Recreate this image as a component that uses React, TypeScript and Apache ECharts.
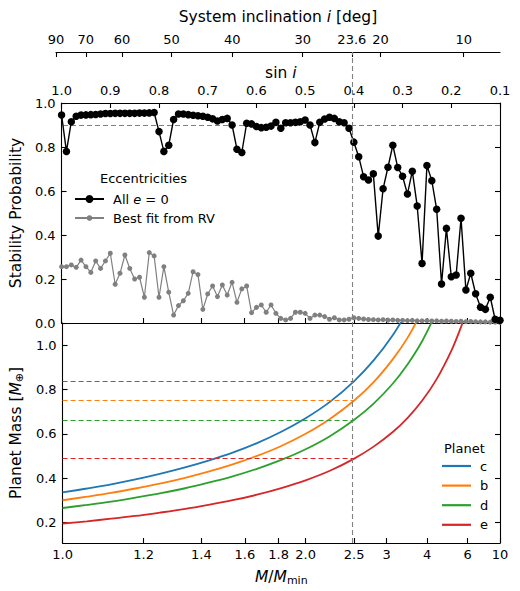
import React, { useEffect, useRef } from "react";
import * as echarts from "echarts";

// ---------- data ----------
// sample positions (sin i) of the stability runs
const stabilitySinI = [
  1.0, 0.99, 0.98, 0.97, 0.96, 0.95, 0.94, 0.93, 0.92, 0.91,
  0.9, 0.89, 0.88, 0.87, 0.86, 0.85, 0.84, 0.83, 0.82, 0.81,
  0.8, 0.79, 0.78, 0.77, 0.76, 0.75, 0.74, 0.73, 0.72, 0.71,
  0.7, 0.69, 0.68, 0.67, 0.66, 0.65, 0.64, 0.63, 0.62, 0.61,
  0.6, 0.59, 0.58, 0.57, 0.56, 0.55, 0.54, 0.53, 0.52, 0.51,
  0.5, 0.49, 0.48, 0.47, 0.46, 0.45, 0.44, 0.43, 0.42, 0.41,
  0.4, 0.39, 0.38, 0.37, 0.36, 0.35, 0.34, 0.33, 0.32, 0.31,
  0.3, 0.29, 0.28, 0.27, 0.26, 0.25, 0.24, 0.23, 0.22, 0.21,
  0.2, 0.19, 0.18, 0.17, 0.16, 0.15, 0.14, 0.13, 0.12, 0.11,
  0.1,
];

const stabilityAllZero = [
  0.945, 0.78, 0.915, 0.94, 0.945, 0.946, 0.947, 0.948, 0.95, 0.952,
  0.952, 0.953, 0.953, 0.953, 0.953, 0.953, 0.954, 0.954, 0.955, 0.957,
  0.87, 0.78, 0.808, 0.925, 0.95, 0.95, 0.947, 0.944, 0.942, 0.94,
  0.935, 0.928, 0.918, 0.925, 0.93, 0.9, 0.79, 0.775, 0.908, 0.905,
  0.893, 0.888, 0.89, 0.895, 0.912, 0.885, 0.91, 0.91, 0.912, 0.915,
  0.923, 0.9, 0.82, 0.912, 0.927, 0.935, 0.93, 0.915, 0.91, 0.885,
  0.822, 0.756, 0.665, 0.65, 0.678, 0.395, 0.61, 0.708, 0.808, 0.707,
  0.667, 0.586, 0.69, 0.532, 0.271, 0.716, 0.647, 0.517, 0.177, 0.43,
  0.21, 0.218, 0.476, 0.15, 0.226, 0.133, 0.072, 0.062, 0.117, 0.017,
  0.012,
];

const stabilityBestFit = [
  0.256, 0.256, 0.264, 0.253, 0.286, 0.256, 0.23, 0.282, 0.248, 0.282,
  0.317, 0.176, 0.226, 0.309, 0.248, 0.2, 0.208, 0.117, 0.32, 0.305,
  0.117, 0.256, 0.14, 0.036, 0.079, 0.101, 0.135, 0.233, 0.22, 0.062,
  0.132, 0.168, 0.12, 0.173, 0.127, 0.185, 0.094, 0.155, 0.168, 0.047,
  0.071, 0.082, 0.049, 0.082, 0.044, 0.021, 0.014, 0.021, 0.049, 0.049,
  0.044, 0.021, 0.036, 0.036, 0.029, 0.017, 0.024, 0.014, 0.014, 0.017,
  0.024, 0.021, 0.018, 0.016, 0.015, 0.014, 0.015, 0.013, 0.014, 0.012,
  0.012, 0.011, 0.012, 0.01, 0.01, 0.011, 0.009, 0.01, 0.008, 0.009,
  0.008, 0.007, 0.008, 0.006, 0.007, 0.006, 0.005, 0.005, 0.004, 0.004,
  0.003,
];

const stabilityReference = 0.9;
const thresholdSinI = 0.4;

// planet mass curves (sin i positions and masses)
const massSinI = [
  1.0, 0.95, 0.9, 0.85, 0.8, 0.75, 0.7, 0.65, 0.6, 0.55, 0.5, 0.45, 0.4,
  0.36, 0.32, 0.29, 0.26, 0.23, 0.2, 0.18, 0.17,
];
const massC = [0.335, 0.353, 0.372, 0.394, 0.419, 0.447, 0.479, 0.515, 0.558, 0.609, 0.67, 0.744, 0.838, 0.931, 1.047, 1.155];
const massB = [0.3, 0.316, 0.333, 0.353, 0.375, 0.4, 0.429, 0.462, 0.5, 0.545, 0.6, 0.667, 0.75, 0.833, 0.938, 1.034, 1.154];
const massD = [0.265, 0.279, 0.294, 0.312, 0.331, 0.353, 0.379, 0.408, 0.442, 0.482, 0.53, 0.589, 0.663, 0.736, 0.828, 0.914, 1.019, 1.152];
const massE = [0.195, 0.205, 0.217, 0.229, 0.244, 0.26, 0.279, 0.3, 0.325, 0.355, 0.39, 0.433, 0.488, 0.542, 0.609, 0.672, 0.75, 0.848, 0.975, 1.083, 1.147];

const planetNames = ["c", "b", "d", "e"];
const planetMasses = [massC, massB, massD, massE];
const planetMassAtThreshold = [0.838, 0.75, 0.663, 0.488];
const planetColors = ["#1f77b4", "#ff7f0e", "#2ca02c", "#d62728"];

// tick labels
const sinTickLabels = ["1.0", "0.9", "0.8", "0.7", "0.6", "0.5", "0.4", "0.3", "0.2", "0.1"];
const ratioTickLabels = ["1.0", "1.2", "1.4", "1.6", "1.8", "2.0", "2.5", "3", "4", "6", "10"];
const inclTickLabels = ["90", "70", "60", "50", "40", "30", "23.6", "20", "10"];
const stabTickLabels = ["0.0", "0.2", "0.4", "0.6", "0.8", "1.0"];
const massTickLabels = ["0.2", "0.4", "0.6", "0.8", "1.0"];

// ---------- helpers ----------
const FONT = "DejaVu Sans";
const sinPos = sinTickLabels.map((s) => parseFloat(s));
const ratioPos = ratioTickLabels.map((s) => 1 / parseFloat(s));
const inclPos = inclTickLabels.map((s) => Math.sin((parseFloat(s) * Math.PI) / 180));
const stabPos = stabTickLabels.map((s) => parseFloat(s));
const massPos = massTickLabels.map((s) => parseFloat(s));

function nearest(labels: string[], pos: number[], v: number): string {
  let best = 0;
  let bd = Infinity;
  for (let i = 0; i < pos.length; i++) {
    const d = Math.abs(pos[i] - v);
    if (d < bd) {
      bd = d;
      best = i;
    }
  }
  return labels[best];
}

const pairs = (xs: number[], ys: number[]) => ys.map((y, i) => [xs[i], y]);

const axisLine = { show: true, onZero: false, lineStyle: { color: "#000", width: 1.1 } };
const tick = (vals: number[]) => ({
  show: true,
  inside: true,
  length: 5,
  customValues: vals,
  lineStyle: { color: "#000", width: 1.1 },
});
const label = (vals: number[], labels: string[], margin: number) => ({
  show: true,
  customValues: vals,
  margin,
  fontSize: 13,
  fontFamily: FONT,
  color: "#000",
  formatter: (v: number) => nearest(labels, vals, v),
});
const rich = {
  i: { fontStyle: "italic", fontFamily: FONT, fontSize: 15.5, color: "#000" },
  s: { fontFamily: FONT, fontSize: 11, color: "#000", verticalAlign: "bottom", padding: [7, 0, 0, 0] },
};
const nameStyle = { fontFamily: FONT, fontSize: 15.5, color: "#000", rich };

const legendText = {
  fontFamily: FONT,
  fontSize: 13,
  lineHeight: 14,
  color: "#000",
  padding: [0, 0, 0, 4],
  rich: { i: { fontStyle: "italic", fontFamily: FONT, fontSize: 13, lineHeight: 14, color: "#000" } },
};

export default function App() {
  const ref = useRef<HTMLDivElement>(null);

  useEffect(() => {
    if (!ref.current) return;
    const chart = echarts.init(ref.current, null, { renderer: "svg" });

    const dashedGray = { color: "#808080", width: 1.2, type: [5, 3] as number[] };

    const option: any = {
      animation: false,
      backgroundColor: "#fff",
      textStyle: { fontFamily: FONT },
      title: [
        {
          text: "Eccentricities",
          left: 100,
          top: 171,
          padding: 0,
          textStyle: { fontFamily: FONT, fontSize: 13, lineHeight: 15, fontWeight: "normal", color: "#000" },
        },
        {
          text: "Planet",
          left: 444,
          top: 441,
          padding: 0,
          textStyle: { fontFamily: FONT, fontSize: 13, lineHeight: 15, fontWeight: "normal", color: "#000" },
        },
      ],
      legend: [
        {
          data: ["All e = 0"],
          orient: "vertical",
          left: 74,
          top: 192,
          padding: 0,
          itemWidth: 29,
          itemHeight: 10,
          formatter: () => "All {i|e} = 0",
          textStyle: legendText,
        },
        {
          data: ["Best fit from RV"],
          orient: "vertical",
          left: 74,
          top: 211,
          padding: 0,
          itemWidth: 29,
          itemHeight: 7,
          textStyle: legendText,
        },
        {
          data: planetNames,
          orient: "vertical",
          left: 442,
          top: 459,
          padding: 0,
          icon: "rect",
          itemWidth: 29,
          itemHeight: 2.2,
          itemGap: 5.6,
          textStyle: legendText,
        },
      ],
      grid: [
        { left: 56, right: 20, top: 103, height: 220 },
        { left: 56, right: 20, top: 323, height: 220 },
        { left: 56, right: 20, top: 52, height: 491 },
      ],
      xAxis: [
        {
          gridIndex: 0,
          type: "value",
          position: "bottom",
          min: 0.1,
          max: 1.0,
          inverse: true,
          axisLine,
          axisTick: tick(ratioPos),
          axisLabel: { show: false },
          splitLine: { show: false },
        },
        {
          gridIndex: 0,
          type: "value",
          position: "top",
          min: 0.1,
          max: 1.0,
          inverse: true,
          axisLine,
          axisTick: tick(sinPos),
          axisLabel: label(sinPos, sinTickLabels, 6),
          splitLine: { show: false },
          name: "sin {i|i}",
          nameLocation: "middle",
          nameGap: 22,
          nameTextStyle: nameStyle,
        },
        {
          gridIndex: 1,
          type: "value",
          position: "bottom",
          min: 0.1,
          max: 1.0,
          inverse: true,
          axisLine,
          axisTick: tick(ratioPos),
          axisLabel: label(ratioPos, ratioTickLabels, 5),
          splitLine: { show: false },
          name: "{i|M}/{i|M}{s|min}",
          nameLocation: "middle",
          nameGap: 25,
          nameTextStyle: nameStyle,
        },
        {
          gridIndex: 2,
          type: "value",
          position: "top",
          min: 0.1,
          max: 1.0,
          inverse: true,
          axisLine,
          axisTick: tick(inclPos),
          axisLabel: label(inclPos, inclTickLabels, 6),
          splitLine: { show: false },
          name: "System inclination {i|i} [deg]",
          nameLocation: "middle",
          nameGap: 27,
          nameTextStyle: nameStyle,
        },
      ],
      yAxis: [
        {
          gridIndex: 0,
          type: "value",
          position: "left",
          min: 0,
          max: 1,
          axisLine,
          axisTick: tick(stabPos),
          axisLabel: label(stabPos, stabTickLabels, 6),
          splitLine: { show: false },
          name: "Stability Probability",
          nameLocation: "middle",
          nameGap: 31,
          nameTextStyle: nameStyle,
        },
        {
          gridIndex: 0,
          type: "value",
          position: "right",
          min: 0,
          max: 1,
          axisLine,
          axisTick: tick(stabPos),
          axisLabel: { show: false },
          splitLine: { show: false },
        },
        {
          gridIndex: 1,
          type: "value",
          position: "left",
          min: 0.107,
          max: 1.1,
          axisLine,
          axisTick: tick(massPos),
          axisLabel: label(massPos, massTickLabels, 6),
          splitLine: { show: false },
          name: "Planet Mass [{i|M}{s|⊕}]",
          nameLocation: "middle",
          nameGap: 31,
          nameTextStyle: nameStyle,
        },
        {
          gridIndex: 1,
          type: "value",
          position: "right",
          min: 0.107,
          max: 1.1,
          axisLine,
          axisTick: tick(massPos),
          axisLabel: { show: false },
          splitLine: { show: false },
        },
        {
          gridIndex: 2,
          type: "value",
          min: 0,
          max: 1,
          show: false,
        },
      ],
      series: [
        {
          name: "guide",
          type: "line",
          xAxisIndex: 3,
          yAxisIndex: 4,
          data: [],
          silent: true,
          markLine: {
            silent: true,
            symbol: ["none", "none"],
            label: { show: false },
            lineStyle: { color: "#808080", width: 1.1, type: [5, 3] },
            data: [{ xAxis: thresholdSinI }],
          },
        },
        {
          name: "All e = 0",
          type: "line",
          xAxisIndex: 1,
          yAxisIndex: 0,
          data: pairs(stabilitySinI, stabilityAllZero),
          symbol: "circle",
          symbolSize: 7.5,
          showSymbol: true,
          lineStyle: { color: "#000", width: 1.4 },
          itemStyle: { color: "#000" },
          z: 4,
          markLine: {
            silent: true,
            symbol: ["none", "none"],
            label: { show: false },
            lineStyle: dashedGray,
            z: 1,
            data: [{ yAxis: stabilityReference }],
          },
        },
        {
          name: "Best fit from RV",
          type: "line",
          xAxisIndex: 1,
          yAxisIndex: 0,
          data: pairs(stabilitySinI, stabilityBestFit),
          symbol: "circle",
          symbolSize: 5,
          showSymbol: true,
          lineStyle: { color: "#808080", width: 1.2 },
          itemStyle: { color: "#808080" },
          z: 3,
        },
        ...planetNames.map((n, idx) => ({
          name: n,
          type: "line",
          xAxisIndex: 2,
          yAxisIndex: 2,
          data: pairs(massSinI, planetMasses[idx]),
          symbol: "none",
          showSymbol: false,
          smooth: 0.3,
          clip: true,
          lineStyle: { color: planetColors[idx], width: 1.8 },
          itemStyle: { color: planetColors[idx] },
          markLine: {
            silent: true,
            symbol: ["none", "none"],
            label: { show: false },
            lineStyle: { color: planetColors[idx], width: 1.2, type: [5, 3] },
            data: [
              [
                { coord: [stabilitySinI[0], planetMassAtThreshold[idx]] },
                { coord: [thresholdSinI, planetMassAtThreshold[idx]] },
              ],
            ],
          },
        })),
      ],
    };

    chart.setOption(option);
    return () => chart.dispose();
  }, []);

  return (
    <div
      ref={ref}
      style={{ position: "fixed", left: 0, top: 0, width: 520, height: 591, background: "#fff" }}
    />
  );
}
